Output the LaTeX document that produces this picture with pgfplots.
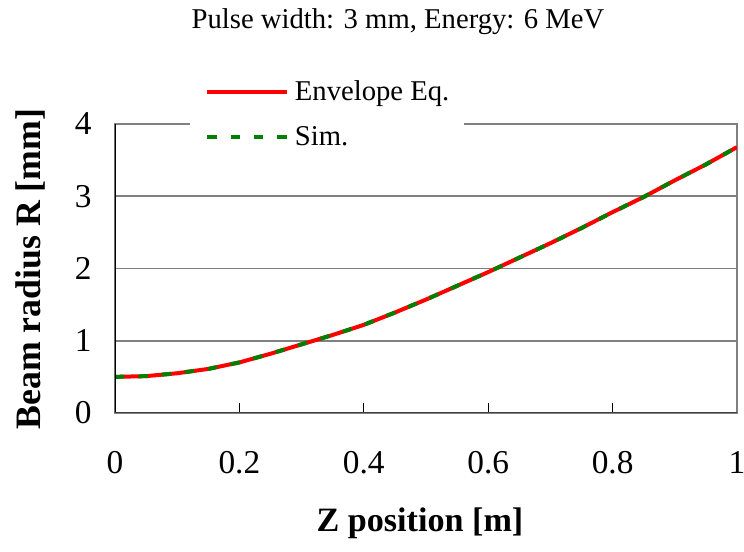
\documentclass[border=0pt]{standalone}
\usepackage{pgfplots}
\pgfplotsset{compat=1.18}
\usepackage{fontspec}
\setmainfont{Liberation Serif}
\definecolor{simgreen}{RGB}{0,128,0}
\begin{document}
\begin{tikzpicture}
\useasboundingbox (-86.25pt,-104.25pt) rectangle (471.75pt,309.75pt);
\begin{axis}[
  at={(0,0)}, anchor=south west,
  scale only axis, width=466.5pt, height=216.75pt,
  xmin=0, xmax=1, ymin=0, ymax=4,
  xtick={0,0.2,0.4,0.6,0.8,1}, ytick={0,1,2,3,4},
  xticklabels={0,0.2,0.4,0.6,0.8,1},
  yticklabels={0,1,2,3,4},
  /pgf/number format/assume math mode=true,
  tick label style={font=\fontsize{25}{30}\selectfont},
  xticklabel style={yshift=-25pt},
  yticklabel style={xshift=-14pt},
  xtick pos=bottom, tick align=inside, major tick length=7.5pt,
  xtick style={black, line width=0.9pt},
  ytick style={draw=none},
  ymajorgrids, grid style={gray, line width=1.2pt},
  axis line style={gray, line width=1.2pt},
  legend style={at={(axis description cs:0.1206,1.177)}, anchor=north west,
    draw=none, fill=white, font=\fontsize{21.5}{25}\selectfont,
    inner xsep=9pt, inner ysep=4pt, row sep=13.75pt, cells={anchor=west}},
  legend image code/.code={\draw[#1] (2.25pt,0pt) -- (62.25pt,0pt); \path (0pt,0pt) (64.5pt,0pt);},
]
\addplot[red, line width=3pt] coordinates {
(0,0.50) (0.05,0.51) (0.10,0.55) (0.15,0.61) (0.20,0.70) (0.25,0.82)
(0.30,0.95) (0.35,1.08) (0.40,1.22) (0.45,1.39) (0.50,1.57) (0.55,1.76)
(0.60,1.95) (0.65,2.15) (0.70,2.35) (0.75,2.56) (0.80,2.78) (0.85,2.99)
(0.90,3.22) (0.95,3.44) (1.00,3.68)};
\addlegendentry{Envelope Eq.}
\addplot[simgreen, line width=3pt, dash pattern=on 7pt off 10.5pt] coordinates {
(0,0.50) (0.05,0.51) (0.10,0.55) (0.15,0.61) (0.20,0.70) (0.25,0.82)
(0.30,0.95) (0.35,1.08) (0.40,1.22) (0.45,1.39) (0.50,1.57) (0.55,1.76)
(0.60,1.95) (0.65,2.15) (0.70,2.35) (0.75,2.56) (0.80,2.78) (0.85,2.99)
(0.90,3.22) (0.95,3.44) (1.00,3.68)};
\addlegendentry{Sim.}
\draw[black, line width=1.5pt] (rel axis cs:0,0) -- (rel axis cs:0,1);
\draw[black!75, line width=1.5pt] (rel axis cs:0,0) -- (rel axis cs:1,0);
\end{axis}
\node[font=\fontsize{21.5}{25}\selectfont] at (212.25pt,293.25pt) {Pulse width: 3 mm, Energy: 6 MeV};
\node[font=\fontsize{26.8}{30}\selectfont\bfseries, rotate=90] at (-63.75pt,108pt) {Beam radius R [mm]};
\node[font=\fontsize{25.6}{30}\selectfont\bfseries] at (228.75pt,-82.5pt) {Z position [m]};
\end{tikzpicture}
\end{document}
